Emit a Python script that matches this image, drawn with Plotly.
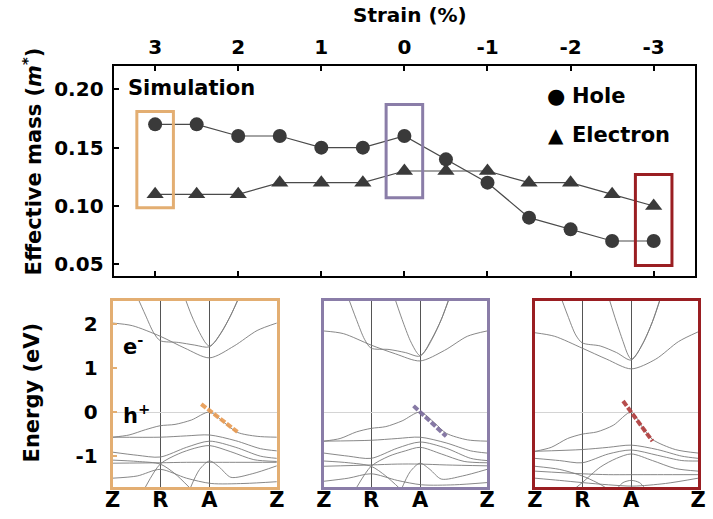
import plotly.graph_objects as go

# ---- effective mass vs strain ----
strain = [3, 2.5, 2, 1.5, 1, 0.5, 0, -0.5, -1, -1.5, -2, -2.5, -3]
hole_mass = [0.17, 0.17, 0.16, 0.16, 0.15, 0.15, 0.16, 0.14, 0.12, 0.09, 0.08, 0.07, 0.07]
electron_mass = [0.11, 0.11, 0.11, 0.12, 0.12, 0.12, 0.13, 0.13, 0.13, 0.12, 0.12, 0.11, 0.10]
strain_ticks = [3, 2, 1, 0, -1, -2, -3]
mass_ticks = [0.05, 0.10, 0.15, 0.20]

# strain values that get a band structure panel below
selected_strain = [3, 0, -3]
panel_colors = ["#E3AE72", "#8A7DA8", "#9A1E22"]
highlight_colors = ["#E89A50", "#7A6B9C", "#B03A3A"]

# ---- band structures along Z-R-A-Z ----
k_nodes = [0.0, 0.29, 0.59, 1.0]
k_labels = ["Z", "R", "A", "Z"]
energy_ticks = [-1, 0, 1, 2]

bands_p3 = [
    ([0, .12, .29, .44, .59, .74, .88, 1.0], [2.02, 1.96, 1.72, 1.45, 1.23, 1.5, 1.85, 2.02]),
    ([.14, .2, .25, .29, .4, .5, .59, .66, .72, .78], [2.7, 2.2, 1.8, 1.62, 1.58, 1.52, 1.48, 1.8, 2.2, 2.7]),
    ([.43, .48, .53, .57, .59, .62, .67, .72, .77], [2.7, 2.2, 1.8, 1.55, 1.5, 1.58, 1.85, 2.2, 2.6]),
    ([0, .1, .2, .29, .38, .48, .59, .68, .76, .88, 1.0], [-0.57, -0.52, -0.4, -0.31, -0.28, -0.18, 0.0, -0.24, -0.46, -0.55, -0.57]),
    ([0, .29, .45, .59, .75, .9, 1.0], [-0.57, -0.57, -0.54, -0.52, -0.65, -0.83, -0.88]),
    ([0, .15, .29, .45, .59, .75, .9, 1.0], [-0.91, -0.98, -1.02, -0.8, -0.66, -0.8, -1.0, -1.05]),
    ([.2, .29, .4, .5, .59, .72, .86, 1.0], [-1.7, -1.18, -0.95, -0.82, -0.76, -0.9, -1.08, -1.12]),
    ([0, .15, .29, .38, .47], [-1.09, -1.12, -1.18, -1.4, -1.72]),
    ([0, .29, .45, .59, .75, 1.0], [-1.16, -1.15, -1.14, -1.14, -1.14, -1.14]),
    ([.47, .53, .59, .65, .72, .85, 1.0], [-1.75, -1.3, -1.11, -1.25, -1.48, -1.4, -1.22]),
    ([0, .15, .29, .45, .6, .8, 1.0], [-1.5, -1.45, -1.3, -1.5, -1.62, -1.62, -1.58]),
]
bands_p0 = [
    ([0, .12, .29, .44, .59, .74, .88, 1.0], [1.84, 1.78, 1.52, 1.32, 1.16, 1.4, 1.72, 1.84]),
    ([.13, .2, .25, .29, .4, .5, .59, .66, .72, .78], [2.8, 2.1, 1.65, 1.45, 1.42, 1.35, 1.27, 1.65, 2.1, 2.7]),
    ([.42, .48, .53, .57, .59, .62, .67, .72, .77], [2.75, 2.1, 1.62, 1.35, 1.28, 1.38, 1.7, 2.1, 2.6]),
    ([0, .1, .2, .29, .38, .48, .59, .68, .75, .88, 1.0], [-0.66, -0.6, -0.45, -0.37, -0.33, -0.2, 0.0, -0.25, -0.48, -0.63, -0.66]),
    ([0, .29, .45, .59, .75, .9, 1.0], [-0.66, -0.64, -0.6, -0.57, -0.7, -0.88, -0.93]),
    ([0, .15, .29, .45, .59, .75, .9, 1.0], [-0.93, -1.0, -1.05, -0.82, -0.68, -0.82, -1.05, -1.1]),
    ([.2, .29, .4, .5, .59, .72, .86, 1.0], [-1.72, -1.23, -1.0, -0.88, -0.8, -0.95, -1.12, -1.15]),
    ([0, .15, .29, .38, .47], [-1.11, -1.15, -1.23, -1.45, -1.75]),
    ([0, .29, .45, .59, .75, 1.0], [-1.23, -1.2, -1.18, -1.18, -1.2, -1.22]),
    ([.47, .53, .59, .65, .72, .85, 1.0], [-1.8, -1.35, -1.16, -1.3, -1.52, -1.45, -1.3]),
    ([0, .15, .29, .45, .6, .8, 1.0], [-1.57, -1.5, -1.4, -1.55, -1.65, -1.65, -1.6]),
]
bands_m3 = [
    ([0, .12, .29, .44, .59, .74, .88, 1.0], [1.8, 1.72, 1.45, 1.2, 0.98, 1.2, 1.6, 1.82]),
    ([.14, .2, .25, .29, .4, .5, .59, .66, .72, .78], [2.8, 2.2, 1.75, 1.57, 1.5, 1.35, 1.18, 1.55, 2.05, 2.7]),
    ([.44, .49, .54, .57, .59, .62, .67, .72, .77], [2.75, 2.15, 1.6, 1.3, 1.2, 1.3, 1.62, 2.05, 2.6]),
    ([0, .1, .2, .29, .38, .48, .59, .66, .72, .86, 1.0], [-0.89, -0.8, -0.6, -0.5, -0.45, -0.3, 0.0, -0.35, -0.62, -0.85, -0.93]),
    ([0, .29, .45, .59, .75, .9, 1.0], [-0.89, -0.85, -0.8, -0.75, -0.85, -1.0, -1.05]),
    ([0, .15, .29, .45, .59, .75, .9, 1.0], [-1.05, -1.1, -1.15, -0.95, -0.86, -0.98, -1.1, -1.11]),
    ([.25, .29, .4, .5, .59, .72, .86, 1.0], [-1.72, -1.6, -1.25, -1.05, -0.95, -1.1, -1.28, -1.34]),
    ([0, .15, .29, .38, .45], [-1.23, -1.3, -1.45, -1.6, -1.75]),
    ([0, .29, .45, .59, .75, 1.0], [-1.34, -1.4, -1.42, -1.42, -1.42, -1.42]),
    ([.5, .54, .59, .64, .68], [-1.75, -1.6, -1.55, -1.6, -1.75]),
    ([0, .15, .29, .45, .6, .8, 1.0], [-1.5, -1.55, -1.6, -1.65, -1.68, -1.62, -1.5]),
]
panel_bands = [bands_p3, bands_p0, bands_m3]

# tangent of the top valence band at A (hole effective-mass fit)
hole_fit_k = [[0.54, 0.76], [0.55, 0.75], [0.54, 0.72]]
hole_fit_e = [[0.18, -0.45], [0.14, -0.55], [0.25, -0.66]]

FONT = "DejaVu Sans"
W, H = 713, 519


def px(x):
    return x / W


def py(y):
    return 1 - y / H


fig = go.Figure()

# top panel series
fig.add_trace(go.Scatter(
    x=strain, y=hole_mass, mode="lines+markers", name="Hole",
    line=dict(color="#4a4a4a", width=1.2),
    marker=dict(symbol="circle", size=14, color="#3a3a3a"),
    showlegend=False, xaxis="x", yaxis="y"))
fig.add_trace(go.Scatter(
    x=strain, y=electron_mass, mode="lines+markers", name="Electron",
    line=dict(color="#4a4a4a", width=1.2),
    marker=dict(symbol="triangle-up", size=15, color="#3a3a3a"),
    showlegend=False, xaxis="x", yaxis="y"))

# highlight boxes around the selected strains
box_pad = [(0.0115, 0.011), (0.023, 0.027), (0.021, 0.027)]
for s, col, (pb, pt) in zip(selected_strain, panel_colors, box_pad):
    i = strain.index(s)
    lo = min(hole_mass[i], electron_mass[i]) - pb
    hi = max(hole_mass[i], electron_mass[i]) + pt
    fig.add_shape(type="rect", xref="x", yref="y", x0=s + 0.22, x1=s - 0.22,
                  y0=lo, y1=hi, line=dict(color=col, width=3))

# band structure panels
x_domains = [[107 / W, 275 / W], [323 / W, 490 / W], [539 / W, 706 / W]]
y_domain = [py(487), py(301)]
for p, bands in enumerate(panel_bands):
    xa = f"x{p + 2}"
    ya = f"y{p + 2}"
    for kk, ee in bands:
        fig.add_trace(go.Scatter(
            x=kk, y=ee, mode="lines", line=dict(color="#7a7a7a", width=0.9, shape="spline", smoothing=0.8),
            showlegend=False, hoverinfo="skip", xaxis=xa, yaxis=ya))
    fig.add_trace(go.Scatter(
        x=hole_fit_k[p], y=hole_fit_e[p], mode="lines",
        line=dict(color=highlight_colors[p], width=4, dash="6px,2px"),
        opacity=0.9, showlegend=False, hoverinfo="skip", xaxis=xa, yaxis=ya))

tickfont = dict(family=FONT, size=20, color="black", weight="bold")

layout = dict(
    width=W, height=H,
    margin=dict(l=0, r=0, t=0, b=0),
    paper_bgcolor="white", plot_bgcolor="white",
    font=dict(family=FONT, color="black"),
    xaxis=dict(domain=[108 / W, 703 / W], anchor="y", side="top",
               range=[3.5, -3.5], tickvals=strain_ticks,
               ticktext=[str(v) for v in strain_ticks],
               ticks="inside", ticklen=5, tickwidth=1.5, tickcolor="black",
               showline=True, linecolor="black", linewidth=2, mirror="ticks",
               showgrid=False, zeroline=False, tickfont=tickfont, ticklabelstandoff=2),
    yaxis=dict(domain=[py(276), py(66)], anchor="x",
               range=[0.04, 0.22], tickvals=mass_ticks, tickformat=".2f",
               ticks="inside", ticklen=5, tickwidth=1.5, tickcolor="black",
               showline=True, linecolor="black", linewidth=2, mirror=True,
               showgrid=False, zeroline=False, tickfont=tickfont, ticklabelstandoff=4),
)

for p in range(3):
    xa_name = f"xaxis{p + 2}"
    ya_name = f"yaxis{p + 2}"
    col = panel_colors[p]
    layout[xa_name] = dict(
        domain=x_domains[p], anchor=f"y{p + 2}", range=[0, 1],
        tickvals=k_nodes, ticktext=k_labels, ticks="",
        showgrid=True, gridcolor="#555555", gridwidth=1, zeroline=False,
        showline=True, linecolor=col, linewidth=3, mirror=True,
        tickfont=dict(family=FONT, size=21, color="black", weight="bold"),
        ticklabelstandoff=-8)
    layout[ya_name] = dict(
        domain=y_domain, anchor=f"x{p + 2}", range=[-1.7, 2.52],
        tickvals=energy_ticks, ticktext=[str(v) for v in energy_ticks],
        showticklabels=(p == 0),
        ticks="inside" if p == 0 else "", ticklen=4, tickwidth=2, tickcolor=col,
        showgrid=False, zeroline=True, zerolinecolor="#d4d4d4", zerolinewidth=1,
        showline=True, linecolor=col, linewidth=3, mirror=True,
        tickfont=tickfont, ticklabelstandoff=8)

fig.update_layout(**layout)

bold = dict(family=FONT, size=20, color="black", weight="bold")


def label(text, x, y, xanchor="center", font=None, **kw):
    return dict(text=text, x=px(x), y=py(y), xref="paper", yref="paper",
                xanchor=xanchor, yanchor="middle", showarrow=False,
                font=font or bold, **kw)


annotations = [
    label("Strain (%)", 411, 15),
    label("Effective mass (<i>m</i><sup>*</sup>)", 25, 161, textangle=-90, font=dict(bold, size=21)),
    label("Energy (eV)", 25, 392, textangle=-90, font=dict(bold, size=21)),
    label("Simulation", 121, 88, xanchor="left", font=dict(bold, size=21)),
    label("●", 561, 96, font=dict(family=FONT, size=21, color="black")),
    label("Hole", 575, 96, xanchor="left", font=dict(bold, size=21)),
    label("▲", 561, 135, font=dict(family=FONT, size=20, color="black")),
    label("Electron", 575, 135, xanchor="left", font=dict(bold, size=21)),
    label("e<sup>-</sup>", 116, 345, xanchor="left", font=dict(bold, size=21)),
    label("h<sup>+</sup>", 116, 414, xanchor="left", font=dict(bold, size=21)),
]
fig.update_layout(annotations=annotations)

fig.write_html("out.html")
